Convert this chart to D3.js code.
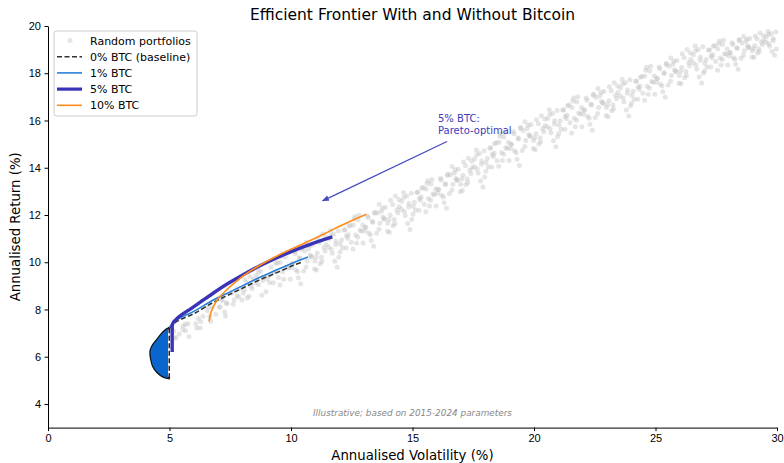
<!DOCTYPE html>
<html>
<head>
<meta charset="utf-8">
<style>
    body { margin: 0; background: #fff; }
    svg { font-family: 'DejaVu Sans', sans-serif; }
    .axis .domain { stroke: #000; stroke-width: 1; }
    .axis .tick line { stroke: #000; stroke-width: 1; }
    .axis .tick text { font-size: 11px; fill: #000; }
</style>
</head>
<body>
<svg width="784" height="463"></svg>
<script src="https://d3js.org/d3.v7.min.js"></script>
<script>
// tick values
const volTicks = [0, 5, 10, 15, 20, 25, 30];
const retTicks = [4, 6, 8, 10, 12, 14, 16, 18, 20];

// legend labels
const seriesLabels = ["Random portfolios", "0% BTC (baseline)", "1% BTC", "5% BTC", "10% BTC"];

// random portfolios [volatility, return]
const randomPortfolios = [
    [5.1,7.14],[5.2,6.78],[5.4,6.96],[5.55,7.14],[5.65,7.38],[5.8,6.86],[6.12,7.22],[6.28,7.49],[6.38,7.71],
    [6.6,8.1],[6.7,7.5],[6.9,7.8],[7.05,8.11],[7.15,8.44],[7.3,7.72],[7.35,8.27],[7.62,8.22],[7.78,8.58],[7.88,8.88],[7.98,8.4],
    [8.1,9.27],[8.2,8.49],[8.4,8.88],[8.3,9.4],[8.55,9.13],[8.65,9.58],[8.8,8.6],[8.85,9.35],[9.12,9.13],[9.28,9.58],[9.38,9.95],[9.48,9.35],
    [9.6,10.24],[9.7,9.28],[9.9,9.76],[9.8,10.4],[9.55,9.04],
    [10.05,9.94],[10.15,10.45],[10.3,9.34],[10.35,10.19],[10.45,10.62],[10.2,9.68],[10.4,9.09],
    [10.62,9.8],[10.78,10.31],[10.88,10.73],[10.98,10.05],[10.52,9.63],[10.72,10.56],[10.83,10.22],
    [11.1,11.02],[11.2,9.94],[11.4,10.48],[11.3,11.2],[11.05,9.67],[11.45,10.75],[11.25,10.21],
    [11.55,10.64],[11.65,11.15],[11.8,10.04],[11.85,10.89],[11.95,11.32],[11.7,10.38],[11.9,9.79],
    [12.12,10.6],[12.28,11.11],[12.38,11.53],[12.48,10.85],[12.02,10.43],[12.22,11.36],[12.33,11.02],
    [12.6,11.83],[12.7,10.81],[12.9,11.32],[12.8,12.0],[12.55,10.56],[12.95,11.58],[12.75,11.07],
    [13.05,11.48],[13.15,11.96],[13.3,10.92],[13.35,11.72],[13.45,12.12],[13.2,11.24],[13.4,10.68],
    [13.62,11.4],[13.78,11.91],[13.88,12.33],[13.98,11.65],[13.52,11.23],[13.72,12.16],[13.83,11.82],
    [14.1,12.62],[14.2,11.54],[14.4,12.08],[14.3,12.8],[14.05,11.27],[14.45,12.35],[14.25,11.81],
    [14.55,12.24],[14.65,12.75],[14.8,11.64],[14.85,12.49],[14.95,12.92],[14.7,11.98],[14.9,11.39],
    [15.12,12.2],[15.28,12.71],[15.38,13.13],[15.48,12.45],[15.02,12.03],[15.22,12.96],[15.33,12.62],
    [15.6,13.34],[15.7,12.38],[15.9,12.86],[15.8,13.5],[15.55,12.14],[15.95,13.1],[15.75,12.62],
    [16.05,13.08],[16.15,13.56],[16.3,12.52],[16.35,13.32],[16.45,13.72],[16.2,12.84],[16.4,12.28],
    [16.62,13.06],[16.78,13.54],[16.88,13.94],[16.98,13.3],[16.52,12.9],[16.72,13.78],[16.83,13.46],
    [17.1,14.24],[17.2,13.28],[17.4,13.76],[17.3,14.4],[17.05,13.04],[17.45,14.0],[17.25,13.52],
    [17.55,14.04],[17.65,14.55],[17.8,13.44],[17.85,14.29],[17.95,14.72],[17.7,13.78],[17.9,13.19],
    [18.12,14.03],[18.28,14.57],[18.38,15.02],[18.48,14.3],[18.02,13.85],[18.22,14.84],[18.33,14.48],
    [18.6,15.33],[18.7,14.31],[18.9,14.82],[18.8,15.5],[18.55,14.06],[18.95,15.08],[18.75,14.57],
    [19.05,14.99],[19.15,15.53],[19.3,14.36],[19.35,15.26],[19.45,15.71],[19.2,14.72],[19.4,14.09],
    [19.62,14.9],[19.78,15.41],[19.88,15.83],[19.98,15.15],[19.52,14.73],[19.72,15.66],[19.83,15.32],
    [20.1,16.03],[20.2,15.01],[20.4,15.52],[20.3,16.2],[20.05,14.76],[20.45,15.78],[20.25,15.27],
    [20.55,15.74],[20.65,16.25],[20.8,15.14],[20.85,15.99],[20.95,16.42],[20.7,15.48],[20.9,14.89],
    [21.12,15.63],[21.28,16.17],[21.38,16.62],[21.48,15.9],[21.02,15.45],[21.22,16.44],[21.33,16.08],
    [21.6,16.82],[21.7,15.74],[21.9,16.28],[21.8,17.0],[21.55,15.47],[21.95,16.55],[21.75,16.01],
    [22.05,16.44],[22.15,16.95],[22.3,15.84],[22.35,16.69],[22.45,17.12],[22.2,16.18],[22.4,15.59],
    [22.62,16.3],[22.78,16.81],[22.88,17.23],[22.98,16.55],[22.52,16.13],[22.72,17.06],[22.83,16.72],
    [23.1,17.43],[23.2,16.41],[23.4,16.92],[23.3,17.6],[23.05,16.16],[23.45,17.18],[23.25,16.67],
    [23.55,17.04],[23.65,17.55],[23.8,16.44],[23.85,17.29],[23.95,17.72],[23.7,16.78],[23.9,16.19],
    [24.12,16.9],[24.28,17.41],[24.38,17.83],[24.48,17.15],[24.02,16.73],[24.22,17.66],[24.33,17.32],
    [24.6,18.13],[24.7,17.11],[24.9,17.62],[24.8,18.3],[24.55,16.86],[24.95,17.88],[24.75,17.37],
    [25.05,17.78],[25.15,18.26],[25.3,17.22],[25.35,18.02],[25.45,18.42],[25.2,17.54],[25.4,16.98],
    [25.62,17.66],[25.78,18.14],[25.88,18.54],[25.98,17.9],[25.52,17.5],[25.72,18.38],[25.83,18.06],
    [26.1,18.83],[26.2,17.81],[26.4,18.32],[26.3,19.0],[26.05,17.56],[26.45,18.58],[26.25,18.07],
    [26.55,18.44],[26.65,18.95],[26.8,17.84],[26.85,18.69],[26.95,19.12],[26.7,18.18],[26.9,17.59],
    [27.12,18.26],[27.28,18.74],[27.38,19.14],[27.48,18.5],[27.02,18.1],[27.22,18.98],[27.33,18.66],
    [27.6,19.25],[27.7,18.35],[27.9,18.8],[27.8,19.4],[27.55,18.13],[27.95,19.03],[27.75,18.58],
    [28.05,18.87],[28.15,19.29],[28.3,18.38],[28.35,19.08],[28.45,19.43],[28.2,18.66],[28.4,18.17],
    [28.62,18.76],[28.78,19.15],[28.88,19.47],[28.98,18.95],[28.52,18.63],[28.72,19.34],[28.83,19.08],
    [29.1,19.58],[29.2,18.86],[29.4,19.22],[29.3,19.7],[29.05,18.68],[29.45,19.4],[29.25,19.04],
    [29.55,19.31],[29.65,19.64],[29.8,18.92],[29.85,19.47],[29.95,19.75],[29.7,19.14],[29.9,18.76],
    [5.08,6.93],[5.18,7.08],[5.27,6.81],[5.56,7.3],[5.66,7.1],[5.76,7.4],[6.08,7.4],[6.18,7.62],[6.27,7.22],
    [6.56,7.95],[6.66,7.7],[6.76,8.08],[7.08,8.11],[7.18,8.38],[7.27,7.89],[7.36,8.25],[7.56,8.7],[7.66,8.4],[7.76,8.86],[7.84,8.54],
    [8.08,8.82],[8.18,9.14],[8.27,8.56],[8.36,8.98],[8.44,9.3],[8.03,8.69],
    [8.56,9.43],[8.66,9.05],[8.76,9.62],[8.84,9.23],[8.97,8.75],[8.63,9.76],
    [9.08,9.43],[9.18,9.8],[9.27,9.13],[9.36,9.62],[9.44,9.98],[9.03,9.28],
    [9.56,10.0],[9.66,9.6],[9.76,10.21],[9.84,9.79],[9.97,9.28],[9.63,10.35],
    [10.08,9.94],[10.18,10.36],[10.27,9.6],[10.36,10.16],[10.44,10.56],[10.03,9.77],
    [10.56,10.48],[10.66,10.05],[10.76,10.7],[10.84,10.25],[10.97,9.71],[10.63,10.85],
    [11.08,10.39],[11.18,10.84],[11.27,10.03],[11.36,10.62],[11.44,11.06],[11.03,10.21],
    [11.56,10.98],[11.66,10.55],[11.76,11.2],[11.84,10.75],[11.97,10.21],[11.63,11.35],
    [12.08,10.94],[12.18,11.36],[12.27,10.6],[12.36,11.16],[12.44,11.56],[12.03,10.77],
    [12.56,11.58],[12.66,11.15],[12.76,11.8],[12.84,11.35],[12.97,10.81],[12.63,11.95],
    [13.08,11.48],[13.18,11.88],[13.27,11.16],[13.36,11.69],[13.44,12.07],[13.03,11.32],
    [13.56,12.08],[13.66,11.65],[13.76,12.3],[13.84,11.85],[13.97,11.31],[13.63,12.45],
    [14.08,11.99],[14.18,12.44],[14.27,11.63],[14.36,12.22],[14.44,12.66],[14.03,11.81],
    [14.56,12.58],[14.66,12.15],[14.76,12.8],[14.84,12.35],[14.97,11.81],[14.63,12.95],
    [15.08,12.54],[15.18,12.96],[15.27,12.2],[15.36,12.76],[15.44,13.16],[15.03,12.37],
    [15.56,13.1],[15.66,12.7],[15.76,13.31],[15.84,12.89],[15.97,12.38],[15.63,13.45],
    [16.08,13.08],[16.18,13.48],[16.27,12.76],[16.36,13.29],[16.44,13.67],[16.03,12.92],
    [16.56,13.7],[16.66,13.3],[16.76,13.91],[16.84,13.49],[16.97,12.98],[16.63,14.05],
    [17.08,13.68],[17.18,14.08],[17.27,13.36],[17.36,13.89],[17.44,14.27],[17.03,13.52],
    [17.56,14.38],[17.66,13.95],[17.76,14.6],[17.84,14.15],[17.97,13.61],[17.63,14.75],
    [18.08,14.39],[18.18,14.84],[18.27,14.03],[18.36,14.62],[18.44,15.06],[18.03,14.21],
    [18.56,15.08],[18.66,14.65],[18.76,15.3],[18.84,14.85],[18.97,14.31],[18.63,15.45],
    [19.08,14.99],[19.18,15.44],[19.27,14.63],[19.36,15.22],[19.44,15.66],[19.03,14.81],
    [19.56,15.58],[19.66,15.15],[19.76,15.8],[19.84,15.35],[19.97,14.81],[19.63,15.95],
    [20.08,15.44],[20.18,15.86],[20.27,15.1],[20.36,15.66],[20.44,16.06],[20.03,15.27],
    [20.56,16.08],[20.66,15.65],[20.76,16.3],[20.84,15.85],[20.97,15.31],[20.63,16.45],
    [21.08,15.99],[21.18,16.44],[21.27,15.63],[21.36,16.22],[21.44,16.66],[21.03,15.81],
    [21.56,16.55],[21.66,16.1],[21.76,16.78],[21.84,16.32],[21.97,15.74],[21.63,16.95],
    [22.08,16.44],[22.18,16.86],[22.27,16.1],[22.36,16.66],[22.44,17.06],[22.03,16.27],
    [22.56,16.98],[22.66,16.55],[22.76,17.2],[22.84,16.75],[22.97,16.21],[22.63,17.35],
    [23.08,16.84],[23.18,17.26],[23.27,16.5],[23.36,17.06],[23.44,17.46],[23.03,16.67],
    [23.56,17.38],[23.66,16.95],[23.76,17.6],[23.84,17.15],[23.97,16.61],[23.63,17.75],
    [24.08,17.24],[24.18,17.66],[24.27,16.9],[24.36,17.46],[24.44,17.86],[24.03,17.07],
    [24.56,17.88],[24.66,17.45],[24.76,18.1],[24.84,17.65],[24.97,17.11],[24.63,18.25],
    [25.08,17.78],[25.18,18.18],[25.27,17.46],[25.36,17.99],[25.44,18.37],[25.03,17.62],
    [25.56,18.3],[25.66,17.9],[25.76,18.51],[25.84,18.09],[25.97,17.58],[25.63,18.65],
    [26.08,18.24],[26.18,18.66],[26.27,17.9],[26.36,18.46],[26.44,18.86],[26.03,18.07],
    [26.56,18.78],[26.66,18.35],[26.76,19.0],[26.84,18.55],[26.97,18.01],[26.63,19.15],
    [27.08,18.58],[27.18,18.98],[27.27,18.26],[27.36,18.79],[27.44,19.17],[27.03,18.42],
    [27.56,19.03],[27.66,18.65],[27.76,19.22],[27.84,18.83],[27.97,18.35],[27.63,19.36],
    [28.08,18.87],[28.18,19.22],[28.27,18.59],[28.36,19.05],[28.44,19.39],[28.03,18.73],
    [28.56,19.28],[28.66,18.95],[28.76,19.44],[28.84,19.11],[28.97,18.69],[28.63,19.56],
    [29.08,19.16],[29.18,19.46],[29.27,18.92],[29.36,19.32],[29.44,19.6],[29.03,19.04],
    [29.56,19.53],[29.66,19.25],[29.76,19.67],[29.84,19.38],[29.97,19.03],[29.63,19.77]
];

// frontiers [volatility, return]
const lowerBranch = [[5.02,5.09],[4.75,5.16],[4.5,5.35],[4.33,5.6],[4.25,5.9],[4.22,6.22],[4.3,6.45],[4.49,6.71],[4.68,6.96],[4.88,7.15],[5.0,7.22]];
const stuckVol = 4.99;   // unconverged solver points sit at this volatility
const frontier0 = [[5.0,7.2],[5.2,7.42],[5.5,7.6],[6.0,7.82],[6.8,8.3],[7.4,8.6],[8.0,8.9],[8.7,9.25],[9.4,9.55],[10.1,9.87],[10.5,10.03]];
const frontier1 = [[5.0,7.25],[5.2,7.5],[5.5,7.68],[6.0,7.92],[6.8,8.4],[7.4,8.7],[8.0,9.0],[8.7,9.35],[9.4,9.67],[10.1,9.98],[10.7,10.22]];
const frontier5 = [[5.11,6.2],[5.11,7.3],[5.16,7.45],[5.4,7.7],[5.9,8.05],[6.6,8.55],[7.37,9.08],[8.0,9.45],[8.72,9.85],[9.4,10.18],[10.08,10.48],[10.9,10.8],[11.7,11.07]];
const frontier10 = [[6.63,7.5],[6.7,7.85],[6.82,8.15],[7.0,8.45],[7.35,8.83],[7.7,9.15],[8.1,9.47],[8.6,9.8],[9.3,10.2],[10.0,10.55],[10.7,10.88],[11.4,11.22],[12.2,11.62],[13.1,12.03]];

// annotation
const noteTarget = [11.3, 12.6];
const noteText = [16.05, 15.45];

let svg = d3.select("svg");
let margin = { top: 26, right: 7, bottom: 35.4, left: 48 };
let width = 784, height = 463;

let x = d3.scaleLinear().domain([0, 30]).range([margin.left, width - margin.right]);
let y = d3.scaleLinear().domain([3, 20]).range([height - margin.bottom, margin.top]);

// random cloud
svg.append("g")
    .selectAll("circle")
    .data(randomPortfolios)
    .join("circle")
    .attr("cx", d => x(d[0]))
    .attr("cy", d => y(d[1]))
    .attr("r", 2.5)
    .style("fill", "#bdbdbd")
    .style("opacity", 0.4);

let line = d3.line().x(d => x(d[0])).y(d => y(d[1])).curve(d3.curveCatmullRom);

// 0% lower branch outline
svg.append("path").datum(lowerBranch).attr("d", line)
    .style("fill", "none").style("stroke", "#111").style("stroke-width", 2.5);

// 1% fill (zig-zag between branch and stuck points)
let area = d3.area().y(d => y(d[1])).x0(d => x(d[0])).x1(x(stuckVol - 0.05)).curve(d3.curveCatmullRom);
svg.append("path").datum(lowerBranch).attr("d", area).style("fill", "#0a66cc");

// 0% unconverged vertical
svg.append("path").datum([[stuckVol, lowerBranch[0][1]], [stuckVol, lowerBranch[lowerBranch.length - 1][1]]])
    .attr("d", d3.line().x(d => x(d[0])).y(d => y(d[1])))
    .style("stroke", "#222").style("stroke-width", 1.5).style("stroke-dasharray", "5,2.5");

svg.append("path").datum(frontier0).attr("d", line)
    .style("fill", "none").style("stroke", "#333").style("stroke-width", 1.6).style("stroke-dasharray", "5,2.5");

svg.append("path").datum(frontier1).attr("d", line)
    .style("fill", "none").style("stroke", "#2a80d8").style("stroke-width", 1.6);

svg.append("path").datum(frontier5).attr("d", d3.line().x(d => x(d[0])).y(d => y(d[1])).curve(d3.curveMonotoneY))
    .style("fill", "none").style("stroke", "#3a33b8").style("stroke-width", 3.4);

svg.append("path").datum(frontier10).attr("d", line)
    .style("fill", "none").style("stroke", "#ff8c1a").style("stroke-width", 1.6);

// axes
let xAxis = d3.axisBottom(x).tickValues(volTicks).tickSize(3.5).tickPadding(3.5).tickSizeOuter(0).tickFormat(d3.format("d"));
let yAxis = d3.axisLeft(y).tickValues(retTicks).tickSize(3.5).tickPadding(3.5).tickSizeOuter(0).tickFormat(d3.format("d"));

svg.append("g").attr("class", "axis")
    .attr("transform", `translate(0,${height - margin.bottom})`)
    .call(xAxis);
svg.append("g").attr("class", "axis")
    .attr("transform", `translate(${margin.left},0)`)
    .call(yAxis);

// labels
svg.append("text")
    .attr("x", (margin.left + width - margin.right) / 2).attr("y", 20)
    .attr("text-anchor", "middle").style("font-size", "15.5px")
    .text("Efficient Frontier With and Without Bitcoin");

svg.append("text")
    .attr("x", (margin.left + width - margin.right) / 2).attr("y", 460)
    .attr("text-anchor", "middle").style("font-size", "13.3px")
    .text("Annualised Volatility (%)");

svg.append("text")
    .attr("transform", `translate(20,${(margin.top + height - margin.bottom) / 2}) rotate(-90)`)
    .attr("text-anchor", "middle").style("font-size", "13.3px")
    .text("Annualised Return (%)");

svg.append("text")
    .attr("x", (margin.left + width - margin.right) / 2).attr("y", 416)
    .attr("text-anchor", "middle").style("font-size", "8.9px")
    .style("font-style", "italic").style("fill", "#888")
    .text("Illustrative; based on 2015-2024 parameters");

// annotation arrow
svg.append("defs").append("marker")
    .attr("id", "head").attr("viewBox", "0 0 10 10")
    .attr("refX", 9).attr("refY", 5)
    .attr("markerWidth", 7).attr("markerHeight", 7)
    .attr("markerUnits", "userSpaceOnUse")
    .attr("orient", "auto")
    .append("path").attr("d", "M0,1 L10,5 L0,9 z").style("fill", "#4848c4");

svg.append("line")
    .attr("x1", x(noteText[0]) + 9).attr("y1", y(noteText[1]) + 8)
    .attr("x2", x(noteTarget[0])).attr("y2", y(noteTarget[1]))
    .style("stroke", "#4848c4").style("stroke-width", 1.3)
    .attr("marker-end", "url(#head)");

let note = svg.append("text")
    .attr("x", x(noteText[0])).attr("y", y(noteText[1]) - 11)
    .style("font-size", "10px").style("fill", "#3c3cbc");
note.append("tspan").attr("x", x(noteText[0])).text("5% BTC:");
note.append("tspan").attr("x", x(noteText[0])).attr("dy", 11.5).text("Pareto-optimal");

// legend
let legend = svg.append("g").attr("transform", "translate(54,31)");
legend.append("rect")
    .attr("width", 143).attr("height", 85).attr("rx", 2.5)
    .style("fill", "#fff").style("fill-opacity", 0.8)
    .style("stroke", "#ccc").style("stroke-width", 1);

let styles = [
    { kind: "dot", color: "#bdbdbd" },
    { kind: "line", color: "#333", w: 1.6, dash: "5,2.5" },
    { kind: "line", color: "#2a80d8", w: 1.6 },
    { kind: "line", color: "#3a33b8", w: 3.2 },
    { kind: "line", color: "#ff8c1a", w: 1.6 }
];

seriesLabels.forEach((label, i) => {
    let ry = 9.5 + i * 16.2;
    let s = styles[i];
    if (s.kind === "dot") {
        legend.append("circle").attr("cx", 16).attr("cy", ry).attr("r", 2.5)
            .style("fill", s.color).style("opacity", 0.4);
    } else {
        legend.append("line").attr("x1", 3).attr("x2", 28).attr("y1", ry).attr("y2", ry)
            .style("stroke", s.color).style("stroke-width", s.w)
            .style("stroke-dasharray", s.dash || null);
    }
    legend.append("text").attr("x", 36).attr("y", ry + 4)
        .style("font-size", "11px").text(label);
});
</script>
</body>
</html>
